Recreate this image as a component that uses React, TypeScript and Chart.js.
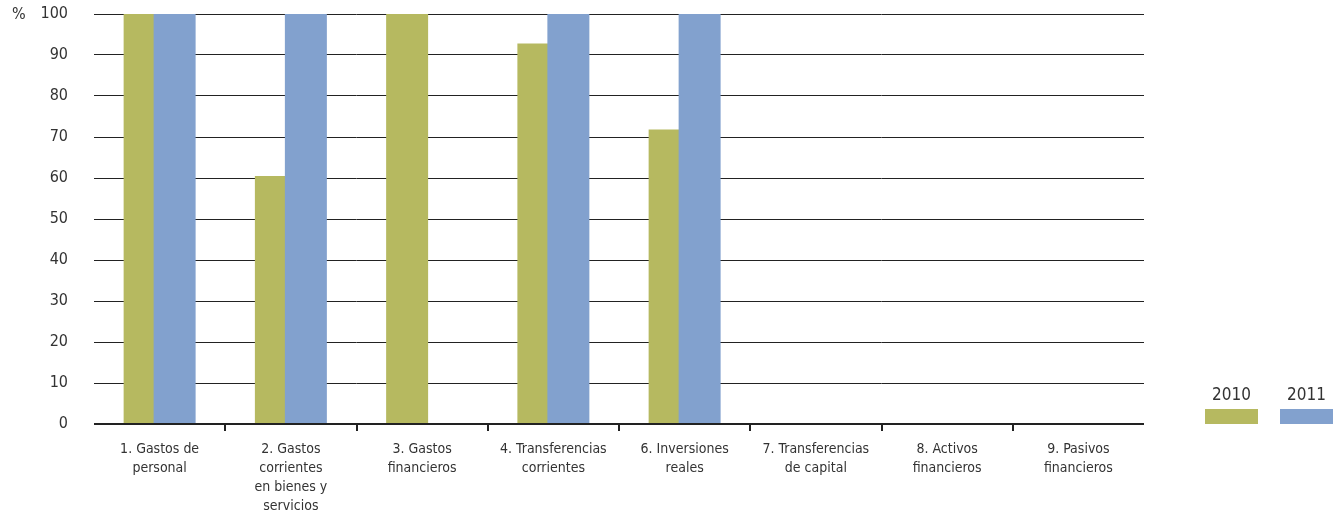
import React, { useEffect, useRef } from "react";
import { Chart, registerables } from "chart.js";

Chart.register(...registerables);

const categories: string[][] = [
  ["1. Gastos de", "personal"],
  ["2. Gastos", "corrientes", "en bienes y", "servicios"],
  ["3. Gastos", "financieros"],
  ["4. Transferencias", "corrientes"],
  ["6. Inversiones", "reales"],
  ["7. Transferencias", "de capital"],
  ["8. Activos", "financieros"],
  ["9. Pasivos", "financieros"],
];
const values2010: (number | null)[] = [100, 60.5, 100, 92.8, 71.8, 0, 0, 0];
const values2011: (number | null)[] = [100, 100, null, 100, 100, 0, 0, 0];
const seriesLabels = ["2010", "2011"];
const seriesColors = ["#B6B960", "#82A1CE"];
const yTicks = [0, 10, 20, 30, 40, 50, 60, 70, 80, 90, 100];

const FONT = "'Liberation Sans Narrow', 'DejaVu Sans Condensed', sans-serif";
const TEXT = "#333333";
const LINE = "#222222";

const extrasPlugin = {
  id: "extras",
  beforeDatasetsDraw(chart: any) {
    // draw 2010 first, then 2011 on top of the overlap
    for (let i = 0; i < chart.data.datasets.length; i++) {
      const meta = chart.getDatasetMeta(i);
      if (meta.visible !== false) meta.controller.draw();
    }
    return false;
  },
  afterDraw(chart: any) {
    const ctx = chart.ctx;
    const ca = chart.chartArea;
    const y = chart.scales.y;
    ctx.save();
    ctx.fillStyle = TEXT;
    ctx.font = `16px ${FONT}`;
    ctx.textAlign = "left";
    ctx.textBaseline = "middle";
    ctx.fillText("%", 12, y.getPixelForValue(100) + 1);
    const sw = 53, sh = 15, gap = 22;
    const startX = ca.right + 61;
    const boxY = y.getPixelForValue(0) - sh;
    seriesLabels.forEach((lab, i) => {
      const x0 = startX + i * (sw + gap);
      ctx.fillStyle = seriesColors[i];
      ctx.fillRect(x0, boxY, sw, sh);
      ctx.fillStyle = TEXT;
      ctx.textAlign = "center";
      ctx.textBaseline = "alphabetic";
      ctx.font = `17px ${FONT}`;
      ctx.fillText(lab, x0 + sw / 2, boxY - 9);
    });
    ctx.restore();
  },
};

export default function App() {
  const ref = useRef<HTMLCanvasElement | null>(null);
  useEffect(() => {
    if (!ref.current) return;
    const chart = new Chart(ref.current, {
      type: "bar",
      data: {
        labels: categories as any,
        datasets: [
          {
            label: seriesLabels[0],
            data: values2010,
            backgroundColor: seriesColors[0],
            categoryPercentage: 0.457,
            barPercentage: 1.4,
          },
          {
            label: seriesLabels[1],
            data: values2011,
            backgroundColor: seriesColors[1],
            categoryPercentage: 0.457,
            barPercentage: 1.4,
          },
        ],
      },
      options: {
        animation: false,
        responsive: false,
        maintainAspectRatio: false,
        layout: { padding: { left: 0, right: 196, top: 14, bottom: 0 } },
        plugins: { legend: { display: false }, tooltip: { enabled: false } },
        scales: {
          x: {
            offset: true,
            grid: {
              offset: true,
              drawOnChartArea: false,
              drawTicks: true,
              tickLength: 7,
              lineWidth: 2,
              color: (c: any) => (c.type !== "tick" || c.index === 0 ? "rgba(0,0,0,0)" : LINE),
            },
            border: { display: false },
            ticks: {
              color: TEXT,
              font: { family: FONT, size: 14, lineHeight: 19 / 14 },
              padding: 9,
              maxRotation: 0,
              autoSkip: false,
            },
            afterFit: (s: any) => {
              s.height = 89;
              s.paddingLeft = 0;
              s.paddingRight = 0;
            },
          },
          y: {
            min: 0,
            max: 100,
            afterBuildTicks: (s: any) => {
              s.ticks = yTicks.map((v) => ({ value: v }));
            },
            grid: {
              drawTicks: false,
              color: LINE,
              lineWidth: (c: any) => (c.tick && c.tick.value === 0 ? 2 : 1),
            },
            border: { display: false },
            ticks: {
              color: TEXT,
              font: { family: FONT, size: 16 },
              padding: 26,
            },
            afterFit: (s: any) => {
              s.width = 94;
              s.paddingTop = 0;
              s.paddingBottom = 0;
            },
          },
        },
      },
      plugins: [extrasPlugin],
    });
    return () => chart.destroy();
  }, []);
  return (
    <div style={{ position: "absolute", left: 0, top: 0, width: 1340, height: 513 }}>
      <canvas ref={ref} width={1340} height={513} style={{ width: 1340, height: 513 }} />
    </div>
  );
}
